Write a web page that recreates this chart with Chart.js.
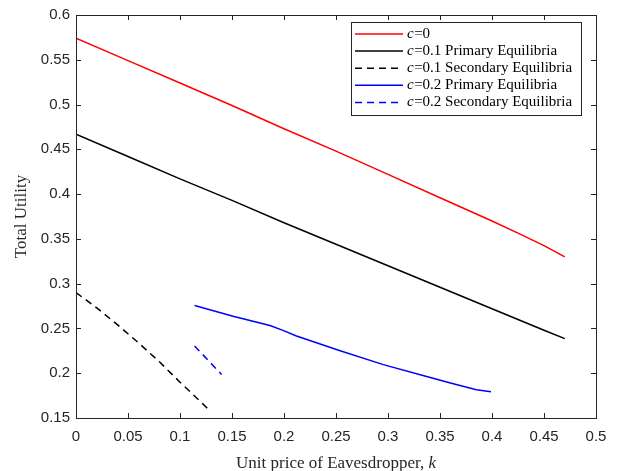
<!DOCTYPE html>
<html>
<head>
<meta charset="utf-8">
<script src="https://cdn.jsdelivr.net/npm/chart.js@4.4.1/dist/chart.umd.min.js"></script>
<style>
  html, body { margin: 0; padding: 0; background: #fff; }
  #wrap { width: 620px; height: 471px; }
</style>
</head>
<body>
<div id="wrap"><canvas id="utilChart" width="620" height="471"></canvas></div>
<script>
// Data (k = unit price of eavesdropper)
const kC0 = [0, 0.05, 0.1, 0.15, 0.2, 0.25, 0.3, 0.35, 0.4, 0.425, 0.45, 0.47];
const uC0 = [0.574, 0.549, 0.524, 0.499, 0.473, 0.448, 0.422, 0.396, 0.370, 0.3565, 0.3425, 0.330];

const kC1Primary = [0, 0.05, 0.1, 0.15, 0.2, 0.25, 0.3, 0.35, 0.4, 0.45, 0.47];
const uC1Primary = [0.467, 0.442, 0.417, 0.393, 0.368, 0.344, 0.320, 0.296, 0.272, 0.248, 0.2386];

const kC1Secondary = [0, 0.02, 0.04, 0.06, 0.08, 0.1, 0.12, 0.127];
const uC1Secondary = [0.290, 0.273, 0.254, 0.234, 0.213, 0.190, 0.168, 0.160];

const kC2Primary = [0.114, 0.151, 0.1865, 0.199, 0.212, 0.254, 0.2955, 0.331, 0.36, 0.385, 0.399];
const uC2Primary = [0.2757, 0.2636, 0.2533, 0.2478, 0.2416, 0.2250, 0.2096, 0.1982, 0.1890, 0.1816, 0.1794];

const kC2Secondary = [0.114, 0.140];
const uC2Secondary = [0.2305, 0.1985];

const xTicks = { min: 0, max: 0.5, step: 0.05 };
const yTicks = { min: 0.15, max: 0.6, step: 0.05 };

const AXIS_COLOR = '#262626';
const SERIF = '"Liberation Serif", "DejaVu Serif", serif';
const SANS = '"Liberation Sans", Arial, sans-serif';

const toPoints = (xs, ys) => xs.map((x, i) => ({ x, y: ys[i] }));

const series = [
  { c: '0', text: '', xs: kC0, ys: uC0, color: '#ff0000', dash: [] },
  { c: '0.1', text: ' Primary Equilibria', xs: kC1Primary, ys: uC1Primary, color: '#000000', dash: [] },
  { c: '0.1', text: ' Secondary Equilibria', xs: kC1Secondary, ys: uC1Secondary, color: '#000000', dash: [7, 5] },
  { c: '0.2', text: ' Primary Equilibria', xs: kC2Primary, ys: uC2Primary, color: '#0000ff', dash: [] },
  { c: '0.2', text: ' Secondary Equilibria', xs: kC2Secondary, ys: uC2Secondary, color: '#0000ff', dash: [7, 5] }
];

// MATLAB-like box, inward ticks, legend and axis titles
const matlabAxes = {
  id: 'matlabAxes',
  afterDraw(chart) {
    const { ctx, chartArea: a, scales } = chart;
    ctx.save();
    ctx.strokeStyle = AXIS_COLOR;
    ctx.lineWidth = 1;
    ctx.strokeRect(a.left + 0.5, a.top + 0.5, a.right - a.left, a.bottom - a.top);

    const tl = 5;
    ctx.beginPath();
    scales.x.ticks.forEach((t) => {
      const px = Math.round(scales.x.getPixelForValue(t.value)) + 0.5;
      ctx.moveTo(px, a.bottom); ctx.lineTo(px, a.bottom - tl);
      ctx.moveTo(px, a.top); ctx.lineTo(px, a.top + tl);
    });
    scales.y.ticks.forEach((t) => {
      const py = Math.round(scales.y.getPixelForValue(t.value)) + 0.5;
      ctx.moveTo(a.left, py); ctx.lineTo(a.left + tl, py);
      ctx.moveTo(a.right, py); ctx.lineTo(a.right - tl, py);
    });
    ctx.stroke();

    // legend
    const lx = 351, ly = 22, lw = 230, lh = 93;
    ctx.fillStyle = '#fff';
    ctx.fillRect(lx, ly, lw, lh);
    ctx.strokeRect(lx + 0.5, ly + 0.5, lw, lh);
    series.forEach((s, i) => {
      const y = ly + 12 + i * 17.1;
      ctx.save();
      ctx.strokeStyle = s.color;
      ctx.lineWidth = 1.5;
      ctx.setLineDash(s.dash);
      ctx.beginPath();
      ctx.moveTo(355, y); ctx.lineTo(403, y);
      ctx.stroke();
      ctx.restore();
      ctx.fillStyle = '#000';
      ctx.textBaseline = 'middle';
      ctx.textAlign = 'left';
      ctx.font = 'italic 15px ' + SERIF;
      ctx.fillText('c', 407, y);
      const cw = ctx.measureText('c').width;
      ctx.font = '15px ' + SERIF;
      ctx.fillText('=' + s.c + s.text, 407 + cw + 0.5, y);
    });

    // axis titles
    ctx.fillStyle = AXIS_COLOR;
    ctx.textBaseline = 'middle';
    const xt = 'Unit price of Eavesdropper, ';
    ctx.font = 'italic 17px ' + SERIF;
    const kw = ctx.measureText('k').width;
    ctx.font = '17px ' + SERIF;
    const xw = ctx.measureText(xt).width;
    const xs = (a.left + a.right) / 2 - (xw + kw) / 2;
    ctx.textAlign = 'left';
    ctx.fillText(xt, xs, 464);
    ctx.font = 'italic 17px ' + SERIF;
    ctx.fillText('k', xs + xw, 464);

    ctx.translate(22, (a.top + a.bottom) / 2);
    ctx.rotate(-Math.PI / 2);
    ctx.textAlign = 'center';
    ctx.font = '17px ' + SERIF;
    ctx.fillText('Total Utility', 0, 0);
    ctx.restore();
  }
};

new Chart(document.getElementById('utilChart'), {
  type: 'scatter',
  data: {
    datasets: series.map((s) => ({
      label: 'c=' + s.c + s.text,
      data: toPoints(s.xs, s.ys),
      showLine: true,
      borderColor: s.color,
      backgroundColor: s.color,
      borderWidth: 1.5,
      borderDash: s.dash,
      pointRadius: 0,
      tension: 0
    }))
  },
  options: {
    responsive: false,
    animation: false,
    layout: { padding: { top: 10, right: 24, left: 0, bottom: 0 } },
    plugins: { legend: { display: false }, tooltip: { enabled: false } },
    scales: {
      x: {
        type: 'linear',
        min: xTicks.min,
        max: xTicks.max,
        grid: { display: false, drawTicks: false },
        border: { display: false },
        ticks: {
          stepSize: xTicks.step,
          padding: 10,
          color: AXIS_COLOR,
          font: { family: SANS, size: 15 },
          maxRotation: 0,
          callback: (v) => String(+v.toFixed(2))
        },
        afterFit: (s) => { s.height = 53; }
      },
      y: {
        type: 'linear',
        min: yTicks.min,
        max: yTicks.max,
        grid: { display: false, drawTicks: false },
        border: { display: false },
        ticks: {
          stepSize: yTicks.step,
          padding: 6,
          color: AXIS_COLOR,
          font: { family: SANS, size: 15 },
          callback: (v) => String(+v.toFixed(2))
        },
        afterFit: (s) => { s.width = 76; }
      }
    }
  },
  plugins: [matlabAxes]
});
</script>
</body>
</html>
